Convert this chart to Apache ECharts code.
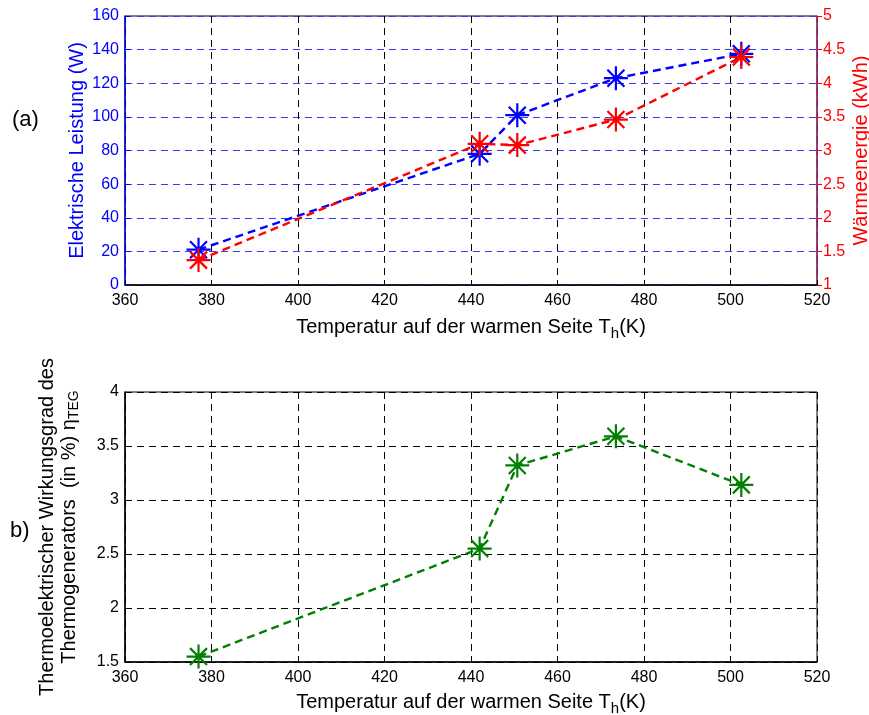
<!DOCTYPE html>
<html><head><meta charset="utf-8">
<script src="https://cdn.jsdelivr.net/npm/echarts@6/dist/echarts.min.js"></script>
<style>html,body{margin:0;padding:0;background:#fff}#c{width:869px;height:715px}</style>
</head><body><div id="c"></div>
<script>
// Data
const temperatures = [377, 442, 450.7, 473.5, 502.5];
const elektrischeLeistung = [21, 78, 101, 123, 137.5];
const waermeenergie = [1.37, 3.1, 3.08, 3.46, 4.39];
const wirkungsgrad = [1.55, 2.55, 3.32, 3.59, 3.14];
const xTicks = {min: 360, max: 520, interval: 20};
const leftTicks = {min: 0, max: 160, interval: 20};
const rightTicks = {min: 1, max: 5, interval: 0.5};
const effTicks = {min: 1.5, max: 4, interval: 0.5};

const FONT = 'Liberation Sans, Arial, sans-serif';
const star = 'path://M0,-10L0,10M-10,0L10,0M-7.07,-7.07L7.07,7.07M-7.07,7.07L7.07,-7.07';
const pair = (xs, ys) => xs.map((x, i) => [x, ys[i]]);

const chart = echarts.init(document.getElementById('c'), null, {renderer: 'canvas'});
const dashed = (c) => ({show: true, lineStyle: {color: c, type: [7, 5], width: 1}});
const xAxisBase = (gi) => ({
  type: 'value', gridIndex: gi, min: xTicks.min, max: xTicks.max, interval: xTicks.interval,
  axisLine: {show: true, onZero: false, lineStyle: {color: '#000', width: 1.5}},
  axisTick: {show: true, inside: true, length: 5, lineStyle: {color: '#000'}},
  axisLabel: {color: '#000', fontSize: 16, fontFamily: FONT, margin: 8},
  splitLine: dashed('#000'),
  name: 'Temperatur auf der warmen Seite T{sub|h}(K)',
  nameLocation: 'middle',
  nameTextStyle: {color: '#000', fontSize: 20, fontFamily: FONT,
    rich: {sub: {fontSize: 15, fontFamily: FONT, color: '#000', padding: [12, 0, 0, 0]}}}
});

const option = {
  animation: false,
  backgroundColor: '#fff',
  grid: [
    {left: 125, right: 52, top: 16, height: 269, show: true, borderColor: '#000', borderWidth: 1, outerBoundsMode: 'none', containLabel: false},
    {left: 125, right: 52, top: 392, height: 270, show: true, borderColor: '#000', borderWidth: 1, outerBoundsMode: 'none', containLabel: false}
  ],
  xAxis: [
    Object.assign(xAxisBase(0), {nameGap: 29}),
    Object.assign(xAxisBase(1), {nameGap: 27})
  ],
  yAxis: [
    {type: 'value', gridIndex: 0, position: 'left', min: leftTicks.min, max: leftTicks.max, interval: leftTicks.interval,
     axisLine: {show: true, lineStyle: {color: '#0000ff', width: 1.5}},
     axisTick: {show: true, inside: true, length: 5, lineStyle: {color: '#0000ff'}},
     axisLabel: {color: '#0000ff', fontSize: 16, fontFamily: FONT, margin: 6},
     splitLine: dashed('#3a3aff'),
     name: 'Elektrische Leistung (W)', nameLocation: 'middle', nameGap: 38, nameMoveOverlap: false,
     nameTextStyle: {color: '#0000ff', fontSize: 20, fontFamily: FONT}},
    {type: 'value', gridIndex: 0, position: 'right', min: rightTicks.min, max: rightTicks.max, interval: rightTicks.interval,
     axisLine: {show: true, lineStyle: {color: '#9b2c6e', width: 1.5}},
     axisTick: {show: true, inside: false, length: 5, lineStyle: {color: '#ff0000'}},
     axisLabel: {color: '#ff0000', fontSize: 16, fontFamily: FONT, margin: 6},
     splitLine: {show: false},
     name: 'Wärmeenergie (kWh)', nameLocation: 'middle', nameGap: 34, nameMoveOverlap: false,
     nameTextStyle: {color: '#ff0000', fontSize: 20, fontFamily: FONT}},
    {type: 'value', gridIndex: 1, position: 'left', min: effTicks.min, max: effTicks.max, interval: effTicks.interval,
     axisLine: {show: true, lineStyle: {color: '#000', width: 1.5}},
     axisTick: {show: true, inside: true, length: 5, lineStyle: {color: '#000'}},
     axisLabel: {color: '#000', fontSize: 16, fontFamily: FONT, margin: 6},
     splitLine: dashed('#000'),
     name: 'Thermoelektrischer Wirkungsgrad des\nThermogenerators  (in %) η{sub|TEG}', nameLocation: 'middle', nameGap: 45, nameMoveOverlap: false,
     nameTextStyle: {color: '#000', fontSize: 20, fontFamily: FONT, lineHeight: 22, align: 'center',
       rich: {sub: {fontSize: 14, fontFamily: FONT, color: '#000', padding: [10, 0, 0, 0]}}}}
  ],
  series: [
    {type: 'line', xAxisIndex: 0, yAxisIndex: 0, data: pair(temperatures, elektrischeLeistung),
     symbol: star, symbolSize: 24, color: '#0000ff',
     itemStyle: {color: '#0000ff', borderColor: '#0000ff', borderWidth: 2.2},
     lineStyle: {color: '#0000ff', width: 2.4, type: [8, 5]}, z: 3},
    {type: 'line', xAxisIndex: 0, yAxisIndex: 1, data: pair(temperatures, waermeenergie),
     symbol: star, symbolSize: 24, color: '#ff0000',
     itemStyle: {color: '#ff0000', borderColor: '#ff0000', borderWidth: 2.2},
     lineStyle: {color: '#ff0000', width: 2.4, type: [8, 5]}, z: 4},
    {type: 'line', xAxisIndex: 1, yAxisIndex: 2, data: pair(temperatures, wirkungsgrad),
     symbol: star, symbolSize: 24, color: '#008000',
     itemStyle: {color: '#008000', borderColor: '#008000', borderWidth: 2.2},
     lineStyle: {color: '#008000', width: 2.4, type: [8, 5]}, z: 3}
  ],
  graphic: [
    {type: 'text', left: 12, top: 109, style: {text: '(a)', fontSize: 22, fontFamily: FONT, fill: '#000'}},
    {type: 'text', left: 10, top: 520, style: {text: 'b)', fontSize: 22, fontFamily: FONT, fill: '#000'}}
  ]
};
chart.setOption(option);
</script></body></html>
